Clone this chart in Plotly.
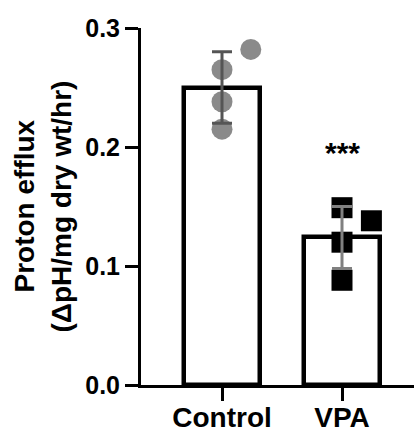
import plotly.graph_objects as go

categories = ["Control", "VPA"]
means = [0.250, 0.124]
sds = [0.030, 0.026]
control_points = [0.265, 0.282, 0.238, 0.215]
vpa_points = [0.149, 0.138, 0.120, 0.088]
jitter_control = [0, 0.24, 0, 0]
jitter_vpa = [0, 0.245, 0, 0]
y_ticks = [0.0, 0.1, 0.2, 0.3]
y_tick_labels = ["0.0", "0.1", "0.2", "0.3"]
significance = "***"

FONT = "Liberation Sans, Arial, sans-serif"
xpos = list(range(len(categories)))

fig = go.Figure()
fig.add_trace(go.Bar(
    x=xpos, y=means, width=0.63,
    marker=dict(color="white", line=dict(color="black", width=4.5)),
    showlegend=False, hoverinfo="skip",
))
fig.add_trace(go.Scatter(
    x=[xpos[0] + j for j in jitter_control], y=control_points, mode="markers",
    marker=dict(symbol="circle", size=21, color="#8a8a8a", line=dict(width=0)),
    showlegend=False,
))
fig.add_trace(go.Scatter(
    x=[xpos[1] + j for j in jitter_vpa], y=vpa_points, mode="markers",
    marker=dict(symbol="square", size=21, color="black", line=dict(width=0)),
    showlegend=False,
))
err_colors = ["#555555", "#808080"]
for i in range(len(categories)):
    fig.add_trace(go.Scatter(
        x=[xpos[i]], y=[means[i]], mode="markers",
        marker=dict(size=1, color="rgba(0,0,0,0)"),
        error_y=dict(type="data", array=[sds[i]], visible=True,
                     color=err_colors[i], thickness=3, width=10),
        showlegend=False,
    ))

fig.add_annotation(x=xpos[1], y=0.180, text=f"<b>{significance}</b>", showarrow=False,
                   yanchor="bottom", font=dict(family=FONT, size=30, color="black"))
fig.add_annotation(xref="paper", yref="paper", x=0, y=0.5, xshift=-117,
                   xanchor="center", yanchor="middle",
                   text="<b>Proton efflux</b>", textangle=-90, showarrow=False,
                   font=dict(family=FONT, size=28, color="black"))
fig.add_annotation(xref="paper", yref="paper", x=0, y=0.5, xshift=-80,
                   xanchor="center", yanchor="middle",
                   text="<b>(ΔpH/mg dry wt/hr)</b>", textangle=-90, showarrow=False,
                   font=dict(family=FONT, size=28, color="black"))

fig.update_layout(
    width=414, height=433,
    margin=dict(l=141, r=0, t=28, b=48, autoexpand=False),
    paper_bgcolor="white", plot_bgcolor="white",
    bargap=0,
    xaxis=dict(
        range=[-0.675, 1.6], tickvals=xpos,
        ticktext=[f"<b>{c}</b>" for c in categories],
        showline=True, linecolor="black", linewidth=3,
        ticks="outside", ticklen=13, tickwidth=3, tickcolor="black",
        showgrid=False, zeroline=False, automargin=False,
        ticklabelstandoff=-8,
        tickfont=dict(family=FONT, size=28, color="black"),
    ),
    yaxis=dict(
        range=[0, 0.3], tickvals=y_ticks,
        ticktext=[f"<b>{t}</b>" for t in y_tick_labels],
        showline=True, linecolor="black", linewidth=3,
        ticks="outside", ticklen=13, tickwidth=3, tickcolor="black",
        showgrid=False, zeroline=False, automargin=False,
        tickfont=dict(family=FONT, size=25, color="black"),
    ),
)

fig.write_html("out.html", config={"displayModeBar": False},
               post_script="document.body.style.margin='0';document.body.style.overflow='hidden';")
